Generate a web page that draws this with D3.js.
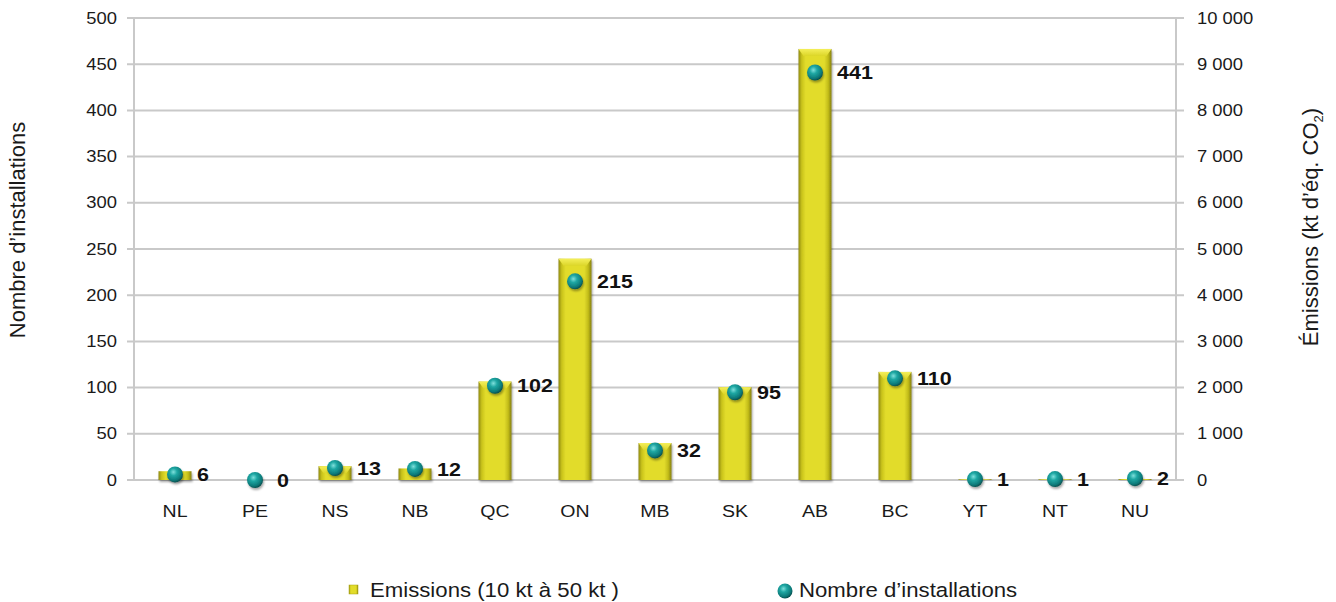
<!DOCTYPE html>
<html>
<head>
<meta charset="utf-8">
<script src="https://cdn.jsdelivr.net/npm/d3@7"></script>
<style>
  html, body { margin: 0; padding: 0; background: #fff; }
  svg { display: block; font-family: "Liberation Sans", Arial, sans-serif; }
</style>
</head>
<body>
<svg id="chart" width="1336" height="602"></svg>
<script>
// Provinces and territories
const provinces = ["NL", "PE", "NS", "NB", "QC", "ON", "MB", "SK", "AB", "BC", "YT", "NT", "NU"];
// Emissions of facilities emitting 10 kt to 50 kt (kt CO2 eq.)
const emissions = [190, 0, 300, 250, 2130, 4790, 800, 2010, 9330, 2340, 15, 15, 20];
// Number of facilities
const facilities = [6, 0, 13, 12, 102, 215, 32, 95, 441, 110, 1, 1, 2];
// Axis ticks
const leftTicks = [0, 50, 100, 150, 200, 250, 300, 350, 400, 450, 500];
const rightTicks = [0, 1000, 2000, 3000, 4000, 5000, 6000, 7000, 8000, 9000, 10000];

const svg = d3.select("#chart");
const m = { left: 135, right: 1175, top: 18, bottom: 480 };
const SX = 1.15;            // horizontal widening of the Arial-style lettering
const ink = "#1a1a1a";

const x = d3.scaleBand().domain(provinces).range([m.left, m.right]).padding(0);
const yLeft = d3.scaleLinear().domain([0, 500]).range([m.bottom, m.top]);
const yRight = d3.scaleLinear().domain([0, 10000]).range([m.bottom, m.top]);

const grid = "#c9c9c9";
const fmt = v => d3.format(",")(v).replace(/,/g, " ");

// place a horizontally widened label at (px, py)
function wide(sel, px, py) {
  return sel.attr("x", 0).attr("y", 0).attr("transform", `translate(${px},${py}) scale(${SX},1)`);
}

const defs = svg.append("defs");
// bevelled yellow column
const barGrad = defs.append("linearGradient").attr("id", "barGrad").attr("x1", 0).attr("x2", 1).attr("y1", 0).attr("y2", 0);
[[0, "#8f8a10"], [0.1, "#c9c31c"], [0.22, "#e2dc2a"], [0.78, "#e2dc2a"], [0.9, "#c2bc1a"], [1, "#857f0e"]]
  .forEach(([o, c]) => barGrad.append("stop").attr("offset", o).attr("stop-color", c));
const topGrad = defs.append("linearGradient").attr("id", "topGrad").attr("x1", 0).attr("x2", 0).attr("y1", 0).attr("y2", 1);
[[0, "#f4ef5a"], [1, "#dcd628"]].forEach(([o, c]) => topGrad.append("stop").attr("offset", o).attr("stop-color", c));
// teal sphere
const ball = defs.append("radialGradient").attr("id", "ball").attr("cx", 0.4).attr("cy", 0.35).attr("r", 0.65);
[[0, "#7fe0dc"], [0.35, "#1fa7a3"], [0.8, "#0c7a79"], [1, "#06504f"]]
  .forEach(([o, c]) => ball.append("stop").attr("offset", o).attr("stop-color", c));
const shadow = defs.append("filter").attr("id", "shadow").attr("x", "-50%").attr("y", "-50%").attr("width", "200%").attr("height", "200%");
shadow.append("feDropShadow").attr("dx", 1).attr("dy", 2).attr("stdDeviation", 1.2).attr("flood-color", "#000").attr("flood-opacity", 0.35);

// gridlines
svg.append("g").selectAll("line").data(leftTicks).join("line")
  .attr("x1", m.left - 8).attr("x2", m.right + 9)
  .attr("y1", d => yLeft(d)).attr("y2", d => yLeft(d))
  .attr("stroke", grid).attr("stroke-width", 2);

// axis lines
svg.append("line").attr("x1", m.left - 1).attr("x2", m.left - 1).attr("y1", m.top).attr("y2", m.bottom)
  .attr("stroke", grid).attr("stroke-width", 2);
svg.append("line").attr("x1", m.right + 1).attr("x2", m.right + 1).attr("y1", m.top).attr("y2", m.bottom)
  .attr("stroke", grid).attr("stroke-width", 2);

// left axis labels
const axL = svg.append("g").attr("transform", "translate(117,0)")
  .call(d3.axisLeft(yLeft).tickValues(leftTicks).tickSize(0).tickPadding(0));
axL.select(".domain").remove();
axL.selectAll("text").attr("font-size", 16).attr("fill", ink).attr("font-family", "Liberation Sans, Arial, sans-serif")
  .attr("x", null).attr("transform", `scale(${SX},1)`);

// right axis labels
const axR = svg.append("g").attr("transform", "translate(1197,0)")
  .call(d3.axisRight(yRight).tickValues(rightTicks).tickFormat(fmt).tickSize(0).tickPadding(0));
axR.select(".domain").remove();
axR.selectAll("text").attr("font-size", 16).attr("fill", ink).attr("font-family", "Liberation Sans, Arial, sans-serif")
  .attr("x", null).attr("transform", `scale(${SX},1)`);

// category labels
const axB = svg.append("g").attr("transform", `translate(0,${m.bottom})`)
  .call(d3.axisBottom(x).tickSize(0).tickPadding(0));
axB.select(".domain").remove();
axB.selectAll("text").attr("font-size", 17).attr("fill", ink).attr("font-family", "Liberation Sans, Arial, sans-serif")
  .attr("y", null).attr("dy", null).attr("transform", `translate(0,37) scale(${SX},1)`);

// columns
const bw = 33;
const bars = svg.append("g").selectAll("g").data(provinces.map((p, i) => ({ p, v: emissions[i] }))).join("g")
  .attr("filter", "url(#shadow)");
bars.append("rect")
  .attr("x", d => x(d.p) + x.bandwidth() / 2 - bw / 2)
  .attr("width", bw)
  .attr("y", d => yRight(d.v))
  .attr("height", d => yRight(0) - yRight(d.v))
  .attr("fill", "url(#barGrad)");
bars.filter(d => yRight(0) - yRight(d.v) > 12).append("path")
  .attr("d", d => {
    const x0 = x(d.p) + x.bandwidth() / 2 - bw / 2, y0 = yRight(d.v);
    return `M${x0},${y0}L${x0 + bw},${y0}L${x0 + bw - 5},${y0 + 7}L${x0 + 5},${y0 + 7}Z`;
  })
  .attr("fill", "url(#topGrad)");

// facility markers
const pts = provinces.map((p, i) => ({ p, v: facilities[i] }));
svg.append("g").selectAll("circle").data(pts).join("circle")
  .attr("cx", d => x(d.p) + x.bandwidth() / 2)
  .attr("cy", d => yLeft(d.v))
  .attr("r", 8)
  .attr("fill", "url(#ball)")
  .attr("filter", "url(#shadow)");

// facility value labels
svg.append("g").selectAll("text").data(pts).join("text")
  .each(function (d) { wide(d3.select(this), x(d.p) + x.bandwidth() / 2 + 22, yLeft(d.v)); })
  .attr("dy", "0.36em")
  .attr("font-size", 18.7).attr("font-weight", "bold").attr("fill", "#111")
  .text(d => d.v);

// axis titles
svg.append("text").attr("transform", "translate(25,230) rotate(-90)")
  .attr("text-anchor", "middle").attr("font-size", 22).attr("fill", ink)
  .text("Nombre d’installations");
const rt = svg.append("text").attr("transform", "translate(1318,227) rotate(-90)")
  .attr("text-anchor", "middle").attr("font-size", 22).attr("fill", ink);
rt.append("tspan").text("Émissions (kt d’éq. CO");
rt.append("tspan").attr("font-size", 13).attr("dy", 5).text("2");
rt.append("tspan").attr("dy", -5).text(")");

// legend
const lg = svg.append("g");
lg.append("rect").attr("x", 349).attr("y", 585).attr("width", 9).attr("height", 9)
  .attr("fill", "url(#barGrad)").attr("stroke", "#a8a214").attr("stroke-width", 0.5);
wide(lg.append("text"), 370, 597).attr("font-size", 19.3).attr("fill", ink)
  .text("Emissions (10 kt à 50 kt )");
lg.append("circle").attr("cx", 785).attr("cy", 591).attr("r", 7.5).attr("fill", "url(#ball)");
wide(lg.append("text"), 799, 597).attr("font-size", 19.3).attr("fill", ink)
  .text("Nombre d’installations");
</script>
</body>
</html>
